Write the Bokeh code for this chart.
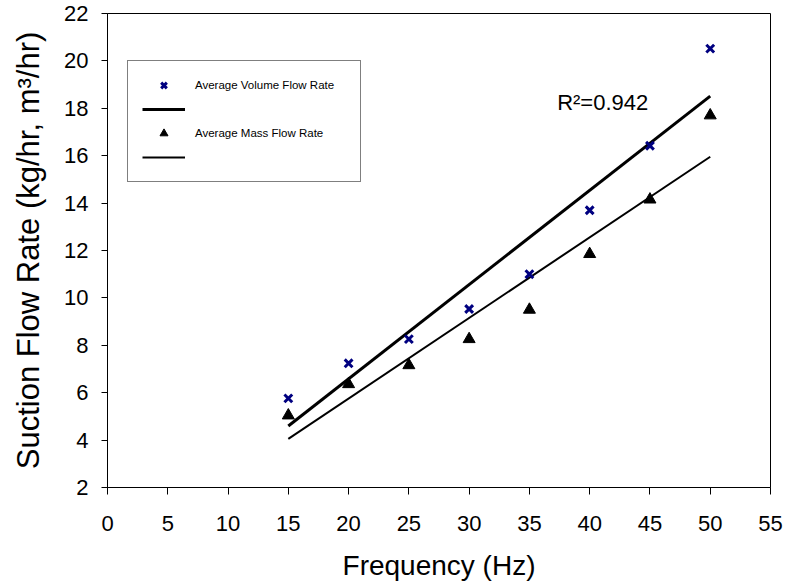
import numpy as np
from bokeh.plotting import figure
from bokeh.models import Legend, LegendItem, Label, Range1d, FixedTicker
from bokeh.embed import file_html
from bokeh.resources import INLINE

# ---- data ----
freq = [15, 20, 25, 30, 35, 40, 45, 50]
volume_flow = [5.76, 7.24, 8.26, 9.53, 11.0, 13.7, 16.42, 20.52]
mass_flow = [5.04, 6.36, 7.16, 8.26, 9.5, 11.85, 14.15, 17.7]
x_ticks = [0, 5, 10, 15, 20, 25, 30, 35, 40, 45, 50, 55]
y_ticks = [2, 4, 6, 8, 10, 12, 14, 16, 18, 20, 22]
series_names = ["Average Volume Flow Rate", "Average Mass Flow Rate"]
r2_text = "R²=0.942"
r2_pos = (37.3, 18.24)

FONT = "Liberation Sans"

# linear trend lines (least squares fits of the series)
fx = [min(freq), max(freq)]
kv, bv = np.polyfit(freq, volume_flow, 1)
km, bm = np.polyfit(freq, mass_flow, 1)
fit_vol = [kv * x + bv for x in fx]
fit_mass = [km * x + bm for x in fx]

p = figure(width=787, height=587, output_backend="svg", toolbar_location=None,
           x_range=Range1d(0, 55), y_range=Range1d(2, 22),
           min_border_left=107, min_border_right=17, min_border_top=13, min_border_bottom=100)

p.grid.visible = False
p.outline_line_color = "black"
p.outline_line_width = 1
p.background_fill_color = "white"
p.border_fill_color = "white"

p.xaxis.ticker = FixedTicker(ticks=x_ticks)
p.yaxis.ticker = FixedTicker(ticks=y_ticks)
for ax in (p.xaxis[0], p.yaxis[0]):
    ax.axis_line_color = "black"
    ax.major_tick_line_color = "black"
    ax.major_tick_in = 0
    ax.minor_tick_line_color = None
    ax.major_label_text_font = FONT
    ax.major_label_text_font_size = "22px"
    ax.major_label_text_color = "black"
    ax.axis_label_text_font = FONT
    ax.axis_label_text_font_style = "normal"
    ax.axis_label_text_color = "black"

p.xaxis.major_tick_out = 7
p.xaxis.major_label_standoff = 21
p.xaxis.axis_label = "Frequency (Hz)"
p.xaxis.axis_label_text_font_size = "28px"
p.xaxis.axis_label_standoff = 16

p.yaxis.major_tick_out = 6
p.yaxis.major_label_standoff = 13
p.yaxis.axis_label = "Suction Flow Rate (kg/hr, m³/hr)"
p.yaxis.axis_label_text_font_size = "31px"
p.yaxis.axis_label_standoff = 15

l_vol = p.line(fx, fit_vol, line_color="black", line_width=3)
l_mass = p.line(fx, fit_mass, line_color="black", line_width=2)
r_mass = p.scatter(freq, mass_flow, marker="triangle", size=12,
                   fill_color="black", line_color="black")
r_vol = p.scatter(freq, volume_flow, marker="x", size=11,
                  line_color="#000080", line_width=3)

p.add_layout(Label(x=r2_pos[0], y=r2_pos[1], text=r2_text, text_font=FONT,
                   text_font_size="22px", text_color="black",
                   text_baseline="alphabetic"))

legend = Legend(items=[
    LegendItem(label=series_names[0], renderers=[r_vol]),
    LegendItem(label=" ", renderers=[l_vol]),
    LegendItem(label=series_names[1], renderers=[r_mass]),
    LegendItem(label=" ", renderers=[l_mass]),
], location=(20, 305))
legend.label_text_font = FONT
legend.label_text_font_size = "11.5px"
legend.label_text_color = "black"
legend.glyph_width = 43
legend.glyph_height = 20
legend.label_height = 20
legend.label_width = 151
legend.label_standoff = 10
legend.spacing = 4
legend.padding = 14
legend.margin = 0
legend.border_line_color = "black"
legend.border_line_width = 1
legend.background_fill_color = "white"
legend.background_fill_alpha = 1
p.add_layout(legend)

open("out.html", "w").write(file_html(p, INLINE))
